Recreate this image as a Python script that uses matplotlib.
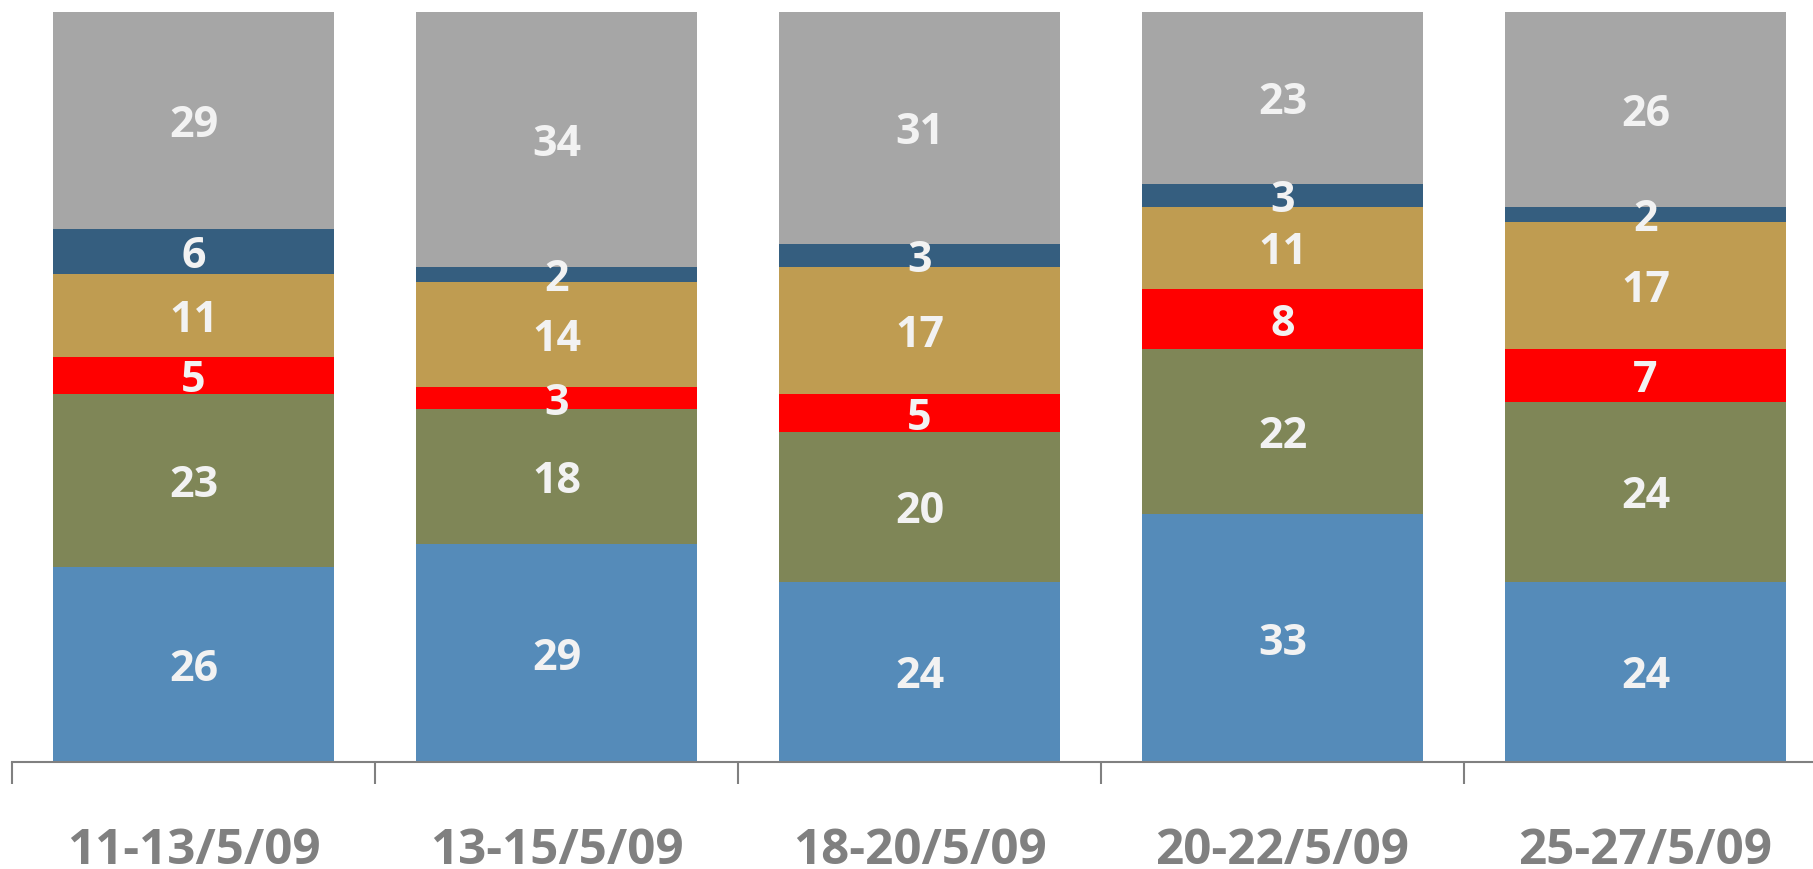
import numpy as np
import matplotlib.pyplot as plt

categories = ["11-13/5/09", "13-15/5/09", "18-20/5/09", "20-22/5/09", "25-27/5/09"]
s_blue = [26, 29, 24, 33, 24]
s_olive = [23, 18, 20, 22, 24]
s_red = [5, 3, 5, 8, 7]
s_tan = [11, 14, 17, 11, 17]
s_navy = [6, 2, 3, 3, 2]
s_gray = [29, 34, 31, 23, 26]

series = [s_blue, s_olive, s_red, s_tan, s_navy, s_gray]
colors = ["#558BB9", "#7F8657", "#FF0000", "#BF9C51", "#355E7F", "#A6A6A6"]

plt.rcParams['font.family'] = ['Open Sans', 'DejaVu Sans']

fig = plt.figure(figsize=(18.13, 8.69), dpi=100)
ax = fig.add_axes([12 / 1813, 1 - 762 / 869, 1815 / 1813, (762 - 11.6) / 869])

x = np.arange(len(categories))
bottom = np.zeros(len(categories))
for vals, col in zip(series, colors):
    vals = np.array(vals, dtype=float)
    ax.bar(x, vals, bottom=bottom, width=0.774, color=col, edgecolor='none')
    for xi, b, v in zip(x, bottom, vals):
        ax.text(xi, b + v / 2, f"{int(v)}", ha='center', va='center_baseline',
                color='#F2F2F2', fontsize=31, fontweight='bold')
    bottom += vals

ax.set_xlim(-0.5, len(categories) - 0.5)
ax.set_ylim(0, 100)
for sp in ['top', 'right', 'left']:
    ax.spines[sp].set_visible(False)
ax.spines['bottom'].set_color('#808080')
ax.spines['bottom'].set_linewidth(1.5)
ax.set_yticks([])
ax.set_xticks(np.arange(len(categories) + 1) - 0.5)
ax.set_xticklabels([])
ax.tick_params(axis='x', length=16, width=1.5, color='#808080')
for xi, lab in zip(x, categories):
    ax.text(xi, -11.1, lab, ha='center', va='center_baseline', color='#808080',
            fontsize=35.5, fontweight='bold', clip_on=False)

fig.savefig("out.png", dpi=100)
